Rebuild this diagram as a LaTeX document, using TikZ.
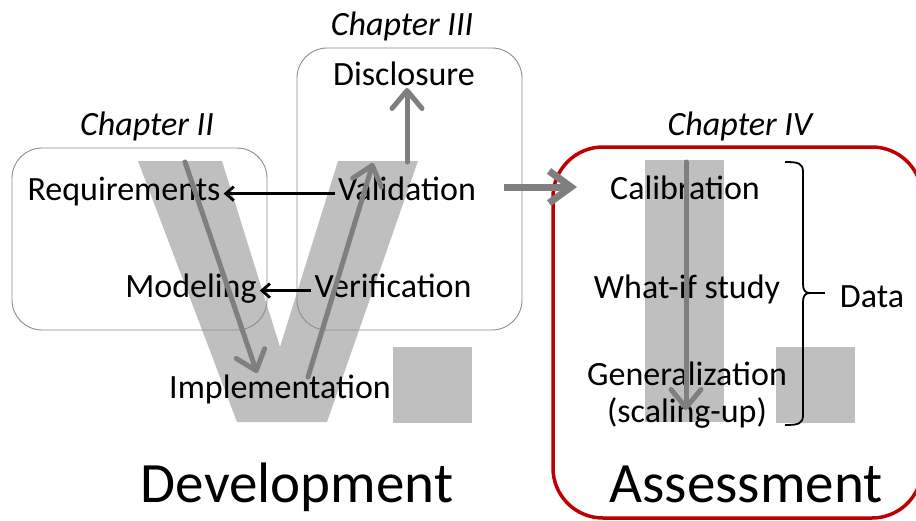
\documentclass[tikz,border=0pt]{standalone}
\usepackage{fontspec}
\setmainfont{Carlito}
\usetikzlibrary{arrows.meta}
\definecolor{vgray}{RGB}{191,191,191}
\definecolor{agray}{RGB}{127,127,127}
\definecolor{bgray}{RGB}{140,140,140}
\definecolor{dred}{RGB}{192,0,0}
\begin{document}
\begin{tikzpicture}[x=1pt,y=-1pt,
  lbl/.style={inner sep=3pt, anchor=base, font=\fontsize{34}{40}\selectfont},
  chap/.style={inner sep=0pt, anchor=base, font=\fontsize{34}{40}\selectfont\itshape},
  big/.style={inner sep=0pt, anchor=base, font=\fontsize{57}{66}\selectfont},
  chapbox/.style={draw=bgray, line width=0.9pt, rounded corners=30pt},
  garrow/.style={draw=agray, line width=5pt, line cap=round, -{Straight Barb[length=18pt,width=30pt,round]}},
  karrow/.style={draw=black, line width=2.8pt, -{Straight Barb[length=8pt,width=14pt]}}
]
\useasboundingbox (0,0) rectangle (916,520);
% V and I shapes
\fill[vgray] (138,161) -- (222,161) -- (280,347) -- (338,161) -- (418,161) -- (327,422) -- (237,422) -- cycle;
\fill[vgray] (393,347) rectangle (472,423);
\fill[vgray] (645,160) rectangle (724,422);
\fill[vgray] (776,347) rectangle (855,423);
% chapter boxes
\draw[chapbox] (12,148) rectangle (267,330);
\draw[chapbox] (297,48) rectangle (522,330);
\draw[draw=dred, line width=3.5pt, rounded corners=50pt] (553,147) rectangle (922,518);
% labels
\node[chap] (c2) at (147,135) {Chapter II};
\node[chap] (c3) at (402,35) {Chapter III};
\node[chap] (c4) at (740,135) {Chapter IV};
\node[lbl] (req) at (124,200) {Requirements};
\node[lbl] (val) at (407,200) {Validation};
\node[lbl] (mod) at (191,297) {Modeling};
\node[lbl] (ver) at (393,297) {Verification};
\node[lbl] (imp) at (280,398) {Implementation};
\node[lbl] (dis) at (404,85) {Disclosure};
\node[lbl] (cal) at (685,199) {Calibration};
\node[lbl] (wif) at (687,298) {What-if study};
\node[lbl] (gen) at (687,385) {Generalization};
\node[lbl] (scl) at (687,422) {(scaling-up)};
\node[lbl] (dat) at (872,307) {Data};
\node[big] (dev) at (297,502) {Development};
\node[big] (ass) at (746,502) {Assessment};
% gray arrows
\coordinate (ltop) at (185,162);
\coordinate (lbot) at (257,373);
\coordinate (rbot) at (308,377);
\coordinate (rtop) at (373,163);
\coordinate (dbase) at (407,162);
\coordinate (dtip) at (407,88);
\coordinate (cstart) at (504,187);
\coordinate (ctip) at (577,187);
\coordinate (itop) at (686,162);
\coordinate (ibot) at (686,410);
\draw[garrow] (ltop) -- (lbot);
\draw[garrow] (rbot) -- (rtop);
\draw[garrow] (dbase) -- (dtip);
\draw[draw=agray, line width=7pt, -{Straight Barb[length=22pt,width=32pt]}] (cstart) -- (ctip);
\draw[garrow] (itop) -- (ibot);
% black arrows
\draw[karrow] ([yshift=4pt]val.mid west) -- ([yshift=4pt]req.mid east);
\draw[karrow] ([yshift=4pt]ver.mid west) -- ([yshift=4pt]mod.mid east);
% brace
\coordinate (btip) at (825,293);
\draw[line width=1.8pt, line join=round] (785,162) .. controls (798,162) and (803,163) .. (803,172) -- (803,284)
  .. controls (803,290) and (805,293) .. (810,293) .. controls (805,293) and (803,296) .. (803,302) -- (803,415)
  .. controls (803,424) and (798,425) .. (785,425);
\draw[line width=1.8pt] (809,293) -- (btip);
\end{tikzpicture}
\end{document}
